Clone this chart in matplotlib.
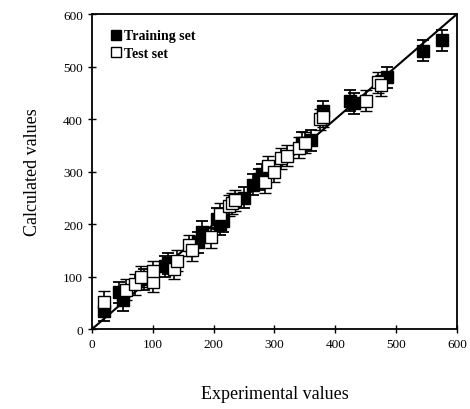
import matplotlib
matplotlib.use("Agg")
import matplotlib.pyplot as plt

plt.rcParams['font.family'] = ['Liberation Serif', 'DejaVu Serif']

# training set (filled squares)
train_x = [20, 45, 50, 85, 120, 125, 175, 180, 205, 210, 215, 250, 265, 275, 280,
           345, 360, 380, 425, 430, 485, 545, 575]
train_y = [35, 70, 55, 95, 120, 125, 165, 185, 210, 200, 205, 250, 275, 285, 295,
           355, 360, 415, 435, 430, 480, 530, 550]

# test set (open squares)
test_x = [20, 55, 70, 80, 100, 100, 135, 140, 160, 165, 195, 210, 225, 230, 235,
          285, 290, 300, 310, 320, 340, 350, 375, 380, 450, 470, 475]
test_y = [52, 75, 85, 100, 90, 110, 115, 130, 160, 150, 175, 220, 235, 240, 245,
          280, 310, 300, 325, 330, 345, 355, 400, 405, 435, 470, 465]

err = 20

fig = plt.figure(figsize=(4.7, 4.1), dpi=100)
ax = fig.add_axes([0.196, 0.195, 0.776, 0.768])

ax.plot([0, 600], [0, 600], color='black', lw=1.5, zorder=1)

ax.errorbar(train_x, train_y, yerr=err, fmt='s', ms=8, mfc='black', mec='black',
            ecolor='black', elinewidth=1.2, capsize=4.5, capthick=1.3, zorder=2,
            label='Training set')
ax.errorbar(test_x, test_y, yerr=err, fmt='s', ms=8, mfc='white', mec='black',
            mew=1.0, ecolor='black', elinewidth=1.2, capsize=4.5, capthick=1.3,
            zorder=3, label='Test set')

ax.set_xlim(0, 600)
ax.set_ylim(0, 600)
ax.set_xticks(range(0, 601, 100))
ax.set_yticks(range(0, 601, 100))
ax.tick_params(direction='inout', length=6, width=1, labelsize=9.5)
for s in ax.spines.values():
    s.set_linewidth(1.3)

ax.set_xlabel('Experimental values', fontsize=13, labelpad=25)
ax.set_ylabel('Calculated values', fontsize=13, labelpad=16)

handles = [plt.Line2D([], [], marker='s', ls='', mfc='black', mec='black', ms=7),
           plt.Line2D([], [], marker='s', ls='', mfc='white', mec='black', ms=7)]
leg = ax.legend(handles, ['Training set', 'Test set'], loc='upper left',
                frameon=False, handletextpad=0.0, handlelength=1.2,
                labelspacing=0.3, borderaxespad=0.7,
                prop={'weight': 'bold', 'size': 10})

fig.savefig('out.png', dpi=100)
